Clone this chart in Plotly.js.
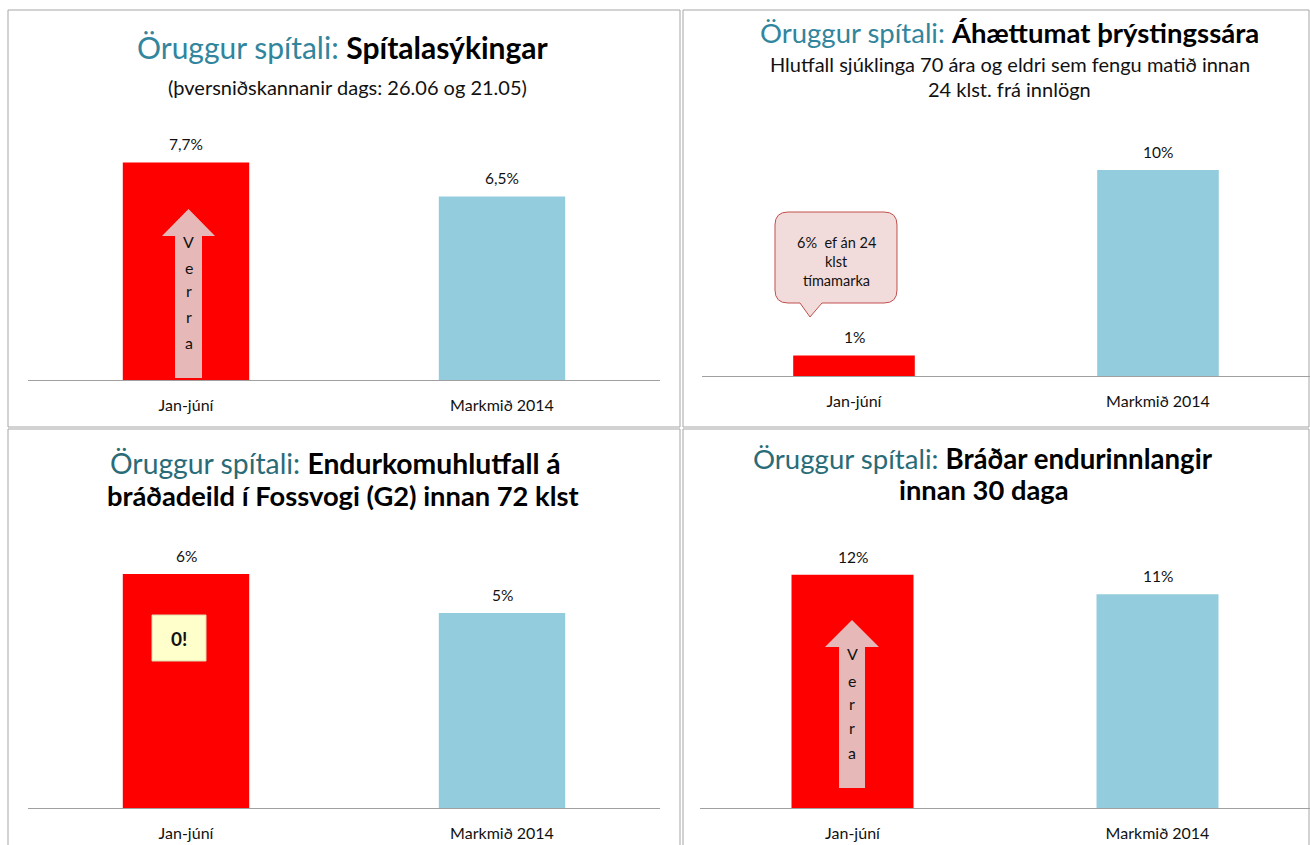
<!DOCTYPE html>
<html>
<head>
<meta charset="utf-8">
<script src="https://cdn.plot.ly/plotly-3.0.1.min.js"></script>
<style>
  html, body { margin: 0; padding: 0; background: #ffffff; }
  #chart { width: 1310px; height: 845px; }
</style>
</head>
<body>
<div id="chart"></div>
<script>
// ---------- data ----------
const categories = ['Jan-júní', 'Markmið 2014'];
const infectionValues = [7.7, 6.5];        // Spítalasýkingar (%)
const pressureUlcerValues = [1, 10];       // Áhættumat þrýstingssára (%)
const returnVisitValues = [6, 5];          // Endurkomuhlutfall G2 (%)
const readmissionValues = [12, 11];        // Bráðar endurinnlangir (%)
const barColors = ['#FF0000', '#93CDDD'];

// ---------- helpers ----------
const W = 1310, H = 845;
const FONT = 'Lato, "Open Sans", "DejaVu Sans", sans-serif';
const px = x => x / W;
const py = y => 1 - y / H;
const xdom = (a, b) => [a / W, Math.min(1, b / W)];
const ydom = (top, bottom) => [1 - bottom / H, 1 - top / H];
const fmtPct = (v, d) => v.toFixed(d).replace('.', ',') + '%';

const panels = [
  { values: infectionValues,     dec: 1, xd: [28, 660],   yd: [125.75, 380], range: [0, 9] },
  { values: pressureUlcerValues, dec: 0, xd: [702, 1310], yd: [128.8, 376],  range: [0, 12] },
  { values: returnVisitValues,   dec: 0, xd: [28, 660],   yd: [535, 808],    range: [0, 7] },
  { values: readmissionValues,   dec: 0, xd: [700, 1310], yd: [535.8, 808],  range: [0, 14] }
];

const traces = [];
const layout = {
  width: W, height: H,
  margin: { l: 0, r: 0, t: 0, b: 0 },
  paper_bgcolor: '#ffffff', plot_bgcolor: 'rgba(0,0,0,0)',
  showlegend: false,
  bargap: 0.6,
  font: { family: FONT, color: '#111' },
  annotations: [],
  shapes: []
};

panels.forEach((p, i) => {
  const n = i === 0 ? '' : String(i + 1);
  traces.push({
    type: 'bar',
    x: categories,
    y: p.values,
    xaxis: 'x' + n,
    yaxis: 'y' + n,
    marker: { color: barColors, line: { width: 0 } },
    hoverinfo: 'x+y'
  });
  layout['xaxis' + n] = {
    domain: xdom(p.xd[0], p.xd[1]),
    anchor: 'y' + n,
    type: 'category',
    showline: true, linecolor: '#A0A0A0', linewidth: 1,
    showgrid: false, zeroline: false, ticks: '',
    ticklabelstandoff: 11,
    tickfont: { family: FONT, size: 16, color: '#111' },
    fixedrange: true
  };
  layout['yaxis' + n] = {
    domain: ydom(p.yd[0], p.yd[1]),
    anchor: 'x' + n,
    range: p.range,
    visible: false,
    showgrid: false, zeroline: false,
    fixedrange: true
  };
  // value labels above bars
  p.values.forEach((v, k) => {
    layout.annotations.push({
      xref: 'x' + n, yref: 'y' + n,
      x: categories[k], y: v,
      text: fmtPct(v, p.dec),
      showarrow: false, yanchor: 'middle', yshift: 18,
      font: { family: FONT, size: 15.5, color: '#111' }
    });
  });
});

// ---------- titles ----------
const TEAL1 = '#31859C', TEAL2 = '#2A6B78';
function paperText(x, y, text, size, color, extra) {
  layout.annotations.push(Object.assign({
    xref: 'paper', yref: 'paper', x: px(x), y: py(y),
    xanchor: 'center', yanchor: 'middle', showarrow: false,
    text: text, font: { family: FONT, size: size, color: color || '#111' }
  }, extra || {}));
}
const teal = (t, c) => '<span style="color:' + c + '">' + t + '</span>';

paperText(343, 47, teal('Öruggur spítali: ', TEAL1) + '<b>Spítalasýkingar</b>', 30, '#000');
paperText(347, 87, '(þversniðskannanir dags: 26.06 og 21.05)', 20, '#111');

paperText(1010, 33, teal('Öruggur spítali: ', TEAL1) + '<b>Áhættumat þrýstingssára</b>', 27.5, '#000');
paperText(1010, 64, 'Hlutfall sjúklinga 70 ára og eldri sem fengu matið innan', 20, '#111');
paperText(1010, 89, '24 klst. frá innlögn', 20, '#111');

paperText(335, 463, teal('Öruggur spítali: ', TEAL2) + '<b>Endurkomuhlutfall á</b>', 28.3, '#000');
paperText(343, 495, '<b>bráðadeild í Fossvogi (G2) innan 72 klst</b>', 27.3, '#000');

paperText(983, 458, teal('Öruggur spítali: ', TEAL2) + '<b>Bráðar endurinnlangir</b>', 27.6, '#000');
paperText(984, 490, '<b>innan 30 daga</b>', 27.3, '#000');

// ---------- panel borders ----------
function rectPx(x0, y0, x1, y1, style) {
  layout.shapes.push(Object.assign({
    type: 'rect', xref: 'paper', yref: 'paper',
    x0: px(x0), x1: px(x1), y0: py(y1), y1: py(y0), layer: 'below'
  }, style));
}
const borderStyle = { line: { color: '#A6A6A6', width: 1 }, fillcolor: 'rgba(0,0,0,0)' };
rectPx(8, 10, 680, 427, borderStyle);
rectPx(683, 10, 1309, 427, borderStyle);
rectPx(8, 429, 680, 850, borderStyle);
rectPx(683, 429, 1309, 850, borderStyle);

// ---------- "Verra" arrows ----------
function pathPx(cmds) {
  return cmds.map(c => {
    const L = c[0];
    if (L === 'Z') return 'Z';
    const nums = [];
    for (let j = 1; j < c.length; j += 2) nums.push(px(c[j]).toFixed(5) + ',' + py(c[j + 1]).toFixed(5));
    return L + nums.join(' ');
  }).join(' ');
}
function upArrow(cx, shaftHalf, headHalf, tipY, headBaseY, bottomY, letterYs) {
  layout.shapes.push({
    type: 'path', xref: 'paper', yref: 'paper', layer: 'above',
    path: pathPx([
      ['M', cx - shaftHalf, bottomY], ['L', cx - shaftHalf, headBaseY], ['L', cx - headHalf, headBaseY],
      ['L', cx, tipY], ['L', cx + headHalf, headBaseY], ['L', cx + shaftHalf, headBaseY],
      ['L', cx + shaftHalf, bottomY], ['Z']
    ]),
    fillcolor: '#E6B9B8', line: { width: 0 }
  });
  const letters = ['V', 'e', 'r', 'r', 'a'];
  letters.forEach((ch, k) => paperText(cx, letterYs[k], ch, 16, '#111'));
}
upArrow(188.5, 13.5, 26.5, 209, 236, 378, [241, 268, 291, 316, 342]);
upArrow(852, 13, 27, 620, 647, 788, [653, 680, 703, 727, 752]);

// ---------- callout in panel 2 ----------
(function () {
  const x0 = 775, x1 = 897, y0 = 212, y1 = 303, r = 13;
  layout.shapes.push({
    type: 'path', xref: 'paper', yref: 'paper', layer: 'above',
    path: pathPx([
      ['M', x0 + r, y0], ['L', x1 - r, y0], ['Q', x1, y0, x1, y0 + r],
      ['L', x1, y1 - r], ['Q', x1, y1, x1 - r, y1],
      ['L', 822, y1], ['L', 810, 317], ['L', 800, y1],
      ['L', x0 + r, y1], ['Q', x0, y1, x0, y1 - r],
      ['L', x0, y0 + r], ['Q', x0, y0, x0 + r, y0], ['Z']
    ]),
    fillcolor: '#F2DCDB', line: { color: '#C0504D', width: 1 }
  });
  paperText(836, 242, '6%  ef án 24', 14.5, '#111');
  paperText(836, 261, 'klst', 14.5, '#111');
  paperText(836, 280, 'tímamarka', 14.5, '#111');
})();

// ---------- "0!" box in panel 3 ----------
rectPx(152, 615, 206, 661, { layer: 'above', fillcolor: '#FFFFCC', line: { color: '#D9D9B0', width: 1 } });
paperText(179, 638, '<b>0!</b>', 19, '#111');

Plotly.newPlot('chart', traces, layout, { staticPlot: true, displayModeBar: false });
</script>
</body>
</html>
